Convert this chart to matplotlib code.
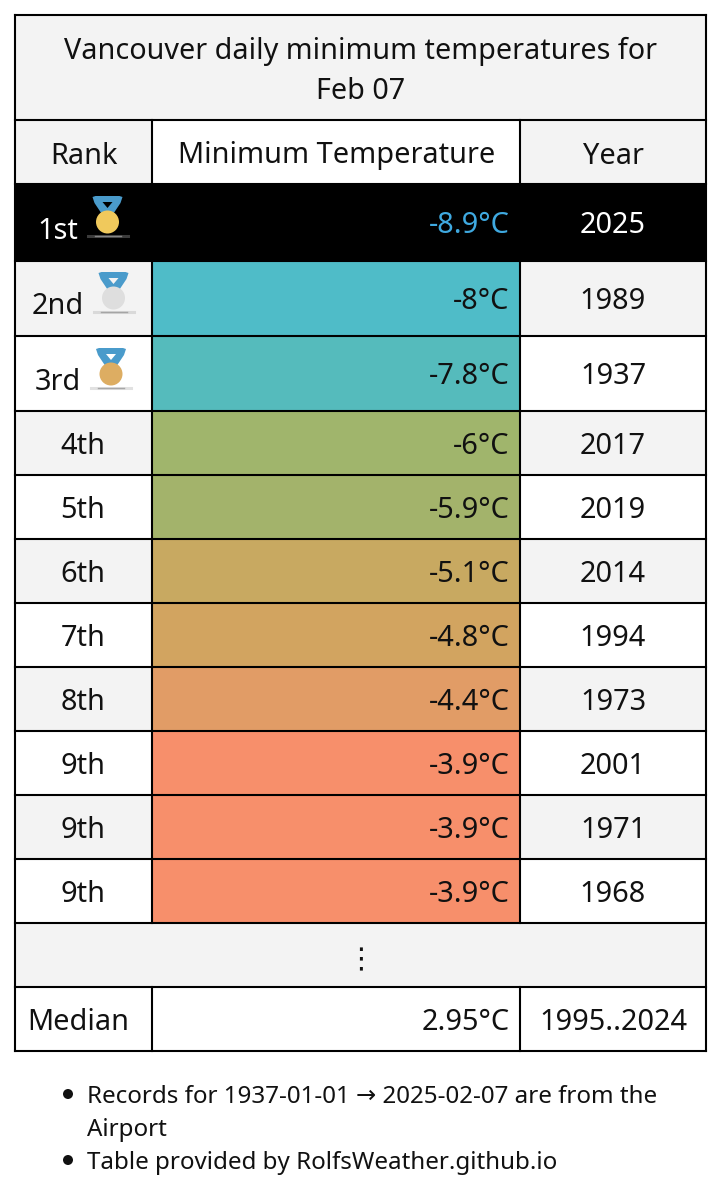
#!/usr/bin/env python3
"""Vancouver daily minimum temperature table, drawn in pixel coordinates."""

import matplotlib
matplotlib.use("Agg")
import matplotlib.pyplot as plt
from matplotlib.patches import Circle, Polygon, Rectangle

TITLE = ["Vancouver daily minimum temperatures for", "Feb 07"]
HEADERS = ["Rank", "Minimum Temperature", "Year"]
RANKS = ["1st", "2nd", "3rd", "4th", "5th", "6th", "7th", "8th", "9th", "9th", "9th"]
TEMPS = ["-8.9°C", "-8°C", "-7.8°C", "-6°C", "-5.9°C", "-5.1°C", "-4.8°C", "-4.4°C",
         "-3.9°C", "-3.9°C", "-3.9°C"]
YEARS = ["2025", "1989", "1937", "2017", "2019", "2014", "1994", "1973", "2001", "1971", "1968"]
TEMP_COLORS = ["#000000", "#4FBCC8", "#55BBBC", "#A0B56C", "#A3B36B", "#C8A961", "#D2A460",
               "#E19C66", "#F78F6B", "#F78F6B", "#F78F6B"]
MEDIAN = ["Median", "2.95°C", "1995..2024"]
NOTES = ["Records for 1937-01-01 → 2025-02-07 are from the", "Airport",
         "Table provided by RolfsWeather.github.io"]
MEDAL_COLORS = ["#F0C95C", "#DEDEDE", "#DDAD62"]

LEFT, COL1, COL2, RIGHT = 15, 152, 520, 706
ROW_EDGES = [261, 336, 411, 475, 539, 603, 667, 731, 795, 859, 923]
GREY = "#F3F3F3"
FS = 20.8

plt.rcParams["font.family"] = ["Noto Sans", "DejaVu Sans"]

fig = plt.figure(figsize=(7.21, 12.0), dpi=100)
ax = fig.add_axes([0, 0, 1, 1])
ax.set_xlim(0, 721)
ax.set_ylim(1200, 0)
ax.axis("off")


def cell(x0, x1, y0, y1, color):
    ax.add_patch(Rectangle((x0, y0), x1 - x0, y1 - y0, facecolor=color, edgecolor="none", zorder=1))


def label(x, y, s, color="#111111", ha="center", size=FS):
    ax.text(x, y, s, color=color, ha=ha, va="center_baseline", fontsize=size, zorder=4)


def medal(cx, top, color, band):
    # ribbon, disc and the small soft shadow under it
    ax.add_patch(Polygon([(cx - 15, top + 1), (cx - 12, top), (cx + 12, top), (cx + 15, top + 1),
                          (cx + 13, top + 7), (cx + 5, top + 19), (cx - 5, top + 19), (cx - 13, top + 7)],
                         facecolor="#4A9BCB", edgecolor="none", zorder=3))
    ax.add_patch(Polygon([(cx - 5, top + 6), (cx + 5, top + 6), (cx, top + 12)],
                         facecolor=band, edgecolor="none", zorder=3))
    ax.add_patch(Circle((cx, top + 26), 11.5, facecolor=color, edgecolor="none", zorder=3))
    ax.plot([cx - 20, cx + 20], [top + 39.5, top + 39.5], color="#AAAAAA", lw=2.2, alpha=0.35, zorder=3)
    ax.plot([cx - 13, cx + 13], [top + 39.5, top + 39.5], color="#999999", lw=1.0, alpha=0.8, zorder=3)


# title and header
cell(LEFT, RIGHT, 15, 120, GREY)
label(360.5, 48, TITLE[0], size=20.7)
label(360.5, 88, TITLE[1], size=20.7)
cell(LEFT, COL1, 120, 184, GREY)
cell(COL2, RIGHT, 120, 184, GREY)
label(84, 152.5, HEADERS[0])
label(336.5, 152.5, HEADERS[1])
label(613, 152.5, HEADERS[2])

# data rows
top = 184
for i, (rank, temp, year, color) in enumerate(zip(RANKS, TEMPS, YEARS, TEMP_COLORS)):
    bottom = ROW_EDGES[i]
    first = i == 0
    band = "#000000" if first else (GREY if i % 2 == 1 else "white")
    cell(LEFT, COL1, top, bottom, band)
    cell(COL1, COL2, top, bottom, color)
    cell(COL2, RIGHT, top, bottom, band)
    mid = (top + bottom) / 2
    if i < 3:
        label(58, [228, 303.5, 379][i], rank, color="white" if first else "#111111")
        medal([107.5, 113.5, 111][i], [196, 272, 348][i], MEDAL_COLORS[i], band)
    else:
        label(83, mid, rank)
    label(509.5, mid - 0.5, temp, color="#3FA9E0" if first else "#111111", ha="right")
    label(613, mid - 0.5, year, color="white" if first else "#111111")
    top = bottom

# ellipsis row and median row
cell(LEFT, RIGHT, 923, 987, GREY)
label(361, 957, "⋮")
label(78, 1019, MEDIAN[0])
label(509.5, 1019, MEDIAN[1], ha="right")
label(613, 1019, MEDIAN[2])

# grid lines, black so the first row reads as one solid band
for y in [15, 120, 184, 987, 1051] + ROW_EDGES:
    ax.plot([LEFT, RIGHT], [y, y], color="#000000", lw=1.5, zorder=5, solid_capstyle="projecting")
for x in [LEFT, RIGHT]:
    ax.plot([x, x], [15, 1051], color="#000000", lw=1.5, zorder=5, solid_capstyle="projecting")
for x in [COL1, COL2]:
    ax.plot([x, x], [120, 923], color="#000000", lw=1.5, zorder=5)
    ax.plot([x, x], [987, 1051], color="#000000", lw=1.5, zorder=5)

# footnotes
for y, note in zip([1094, 1127, 1160], NOTES):
    ax.text(87, y, note, color="#111111", ha="left", va="center_baseline", fontsize=17.4, zorder=4)
for y in [1094, 1160]:
    ax.add_patch(Circle((68, y), 5, facecolor="#111111", edgecolor="none"))

fig.savefig("out.png", dpi=100, facecolor="white")
plt.close(fig)
